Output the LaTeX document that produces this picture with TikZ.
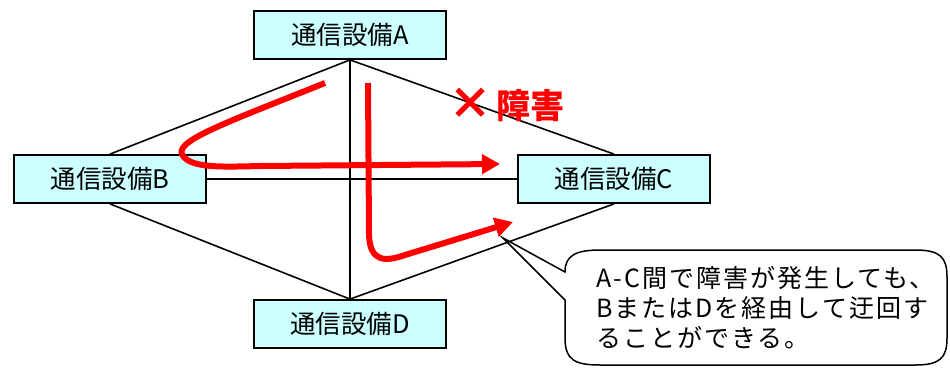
\documentclass[tikz,border=0pt]{standalone}
\usepackage{fontspec}
\setmainfont{Noto Sans CJK JP}
\newfontfamily\notefont{Noto Sans CJK JP}[LetterSpace=8]
\usetikzlibrary{arrows.meta}
\definecolor{boxfill}{HTML}{CCFFFF}
\definecolor{alarm}{HTML}{FF0000}
\tikzset{
  unit/.style={draw=black, line width=1.8pt, fill=boxfill, minimum width=192pt,
    minimum height=48pt, inner sep=0pt, font=\fontsize{25.5}{28}\selectfont},
  link/.style={draw=black, line width=1.6pt},
  route/.style={draw=alarm, line width=6pt, line join=round,
    -{Triangle[length=18pt,width=19pt]}},
  alarmtext/.style={text=alarm, inner sep=0pt, font=\bfseries\fontsize{34}{34}\selectfont},
  bubble/.style={draw=black, line width=1.5pt, fill=white},
  notetext/.style={anchor=north west, align=left, inner sep=0pt,
    font=\notefont\fontsize{25}{30}\selectfont}
}
\begin{document}
\begin{tikzpicture}[x=1pt,y=-1pt]
\useasboundingbox (0,0) rectangle (950,368);
% devices
\node[unit] (A) at (350,35) {通信設備A};
\node[unit] (B) at (110,179) {通信設備B};
\node[unit] (C) at (614,179) {通信設備C};
\node[unit] (D) at (350,324) {通信設備D};
% links
\draw[link] (A.south) -- (B.north);
\draw[link] (A.south) -- (C.north);
\draw[link] (A.south) -- (D.north);
\draw[link] (B.east) -- (C.west);
\draw[link] (B.south) -- (D.north);
\draw[link] (C.south) -- (D.north);
% red routes
\coordinate (r1s) at (325,83);
\coordinate (r1e) at (500,164);
\draw[route] (r1s) .. controls (220,125) and (172,142) .. (183,156)
  .. controls (192,168) and (220,167) .. (260,166) -- (r1e);
\coordinate (r2s) at (368,83);
\coordinate (r2e) at (513,222);
\draw[route] (r2s) -- (369,235) .. controls (370,262) and (385,262) .. (405,255) -- (r2e);
% fault label
\node[alarmtext, font=\bfseries\fontsize{44}{44}\selectfont] (cross) at (470,104) {×};
\node[alarmtext, anchor=west] (fault) at (496,106) {障害};
% callout
\coordinate (tip) at (503,238);
\draw[bubble] (565,300) -- (565,338) .. controls (565,360) and (575,365) .. (600,365)
  -- (915,365) .. controls (940,365) and (947,358) .. (947,338)
  -- (947,277) .. controls (947,257) and (940,250) .. (915,250)
  -- (600,250) .. controls (575,250) and (565,256) .. (565,272)
  -- (tip) -- cycle;
\node[notetext] (note) at (596,266) {A-C間で障害が発生しても、\\BまたはDを経由して迂回す\\ることができる。};
\end{tikzpicture}
\end{document}
